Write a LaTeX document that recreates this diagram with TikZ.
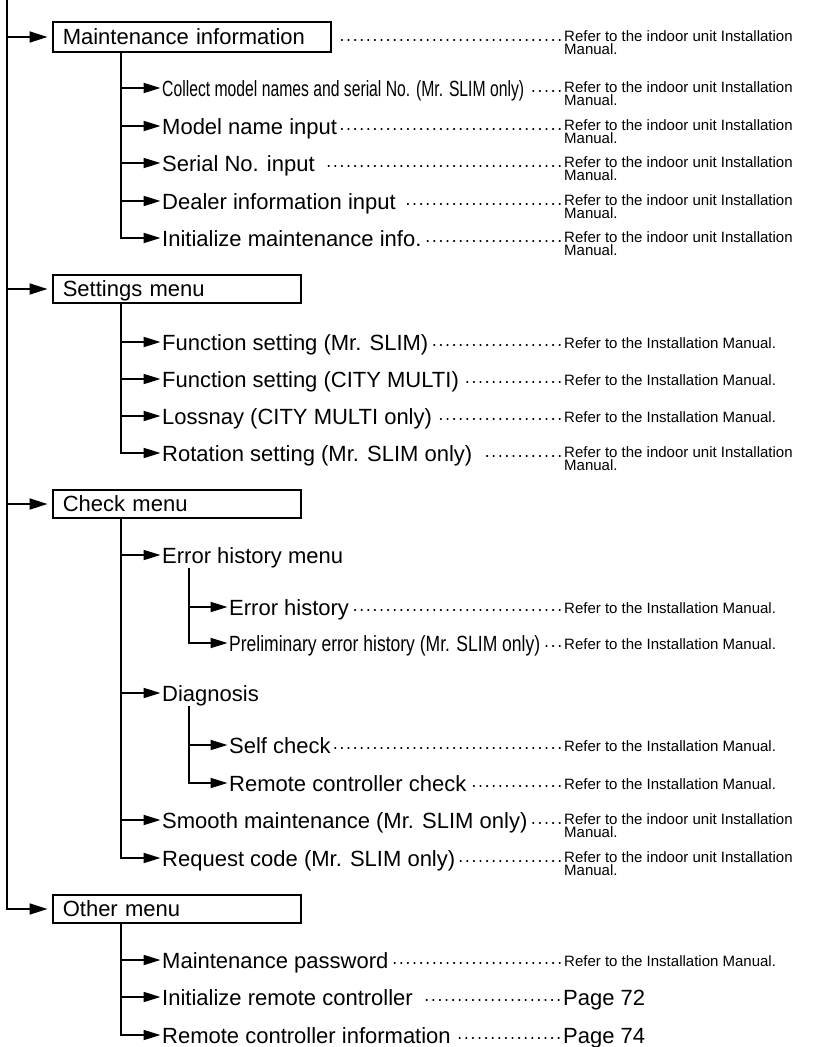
\documentclass[tikz,border=0pt]{standalone}
\usepackage{fontspec}
\usepackage{graphicx}
\setmainfont{Liberation Sans}
\usetikzlibrary{arrows.meta,calc}
\newcommand\itemfont{\fontsize{22}{26}\selectfont}
\newcommand\notefont{\fontsize{15}{13.5}\selectfont}
\newcommand\indoornote{\vtop{\hbox{Refer to the indoor unit Installation}\hbox{Manual.}}}
\newcommand\instnote{Refer to the Installation Manual.}
\newcommand\tbranch[2]{\draw[subarrow] ($(#1 |- #2.base west)+(0,8pt)$) -- ($(#2.base west)+(0,8pt)$);}
\newcommand\tlast[2]{\draw[subarrow] (#1) |- ($(#2.base west)+(0,8pt)$);}
\newcommand\leadto[3][4pt]{\draw[leader] ($(#2.base east -| #3.west)+(-4pt,5pt)$) -- ($(#2.base east)+(#1,5pt)$);}
\begin{document}
\begin{tikzpicture}[x=1pt,y=-1pt,
  tline/.style={line width=1.8pt},
  toparrow/.style={tline,-{Triangle[length=18pt,width=11pt]},shorten >=4.5pt},
  subarrow/.style={tline,-{Triangle[length=17pt,width=10pt]},shorten >=1.5pt},
  menubox/.style={draw,line width=1.6pt,anchor=west,inner xsep=10pt,inner ysep=0pt,
    minimum height=28pt,text height=16pt,text depth=2pt,align=left,font=\itemfont},
  item/.style={inner sep=0pt,anchor=base west,font=\itemfont},
  refer/.style={inner sep=0pt,anchor=base west,font=\notefont},
  pageref/.style={inner sep=0pt,anchor=base west,font=\itemfont},
  leader/.style={line width=1.7pt,line cap=round,dash pattern=on 0.6pt off 6pt}]
\useasboundingbox (0,0) rectangle (813,1047);

% menu boxes
\node[menubox,text width=258pt,minimum height=30pt] (mi) at (52,37) {Maintenance information};
\node[menubox,text width=228pt] (sm) at (52,289) {Settings menu};
\node[menubox,text width=228pt] (cm) at (52,504) {Check menu};
\node[menubox,text width=228pt] (om) at (52,909) {Other menu};

% trunk
\coordinate (trunk) at (7,0);
\draw[toparrow] (trunk) |- (om.west);
\draw[toparrow] (trunk |- mi.west) -- (mi.west);
\draw[toparrow] (trunk |- sm.west) -- (sm.west);
\draw[toparrow] (trunk |- cm.west) -- (cm.west);

% maintenance information
\node[refer] (r0) at (564,41) {\indoornote};
\draw[leader] ($(mi.east -| r0.west)+(-4pt,-3pt)$) -- ($(mi.east)+(7pt,-3pt)$);
\node[item] (ci) at (162,96) {\resizebox{362pt}{\height}{Collect model names and serial No. (Mr. SLIM only)}};
\node[item] (mn) at (162,134) {Model name input};
\node[item] (sn) at (162,171) {Serial No. input};
\node[item] (di) at (162,209) {Dealer information input};
\node[item] (im) at (162,246) {Initialize maintenance info.};
\node[refer] (r1) at (564,92) {\indoornote};
\node[refer] (r2) at (564,130) {\indoornote};
\node[refer] (r3) at (564,167) {\indoornote};
\node[refer] (r4) at (564,205) {\indoornote};
\node[refer] (r5) at (564,242) {\indoornote};
\leadto{ci}{r1}
\leadto{mn}{r2}
\leadto[10pt]{sn}{r3}
\leadto[10pt]{di}{r4}
\leadto{im}{r5}
\coordinate (v1) at ([xshift=69pt]mi.south west);
\tbranch{v1}{ci}
\tbranch{v1}{mn}
\tbranch{v1}{sn}
\tbranch{v1}{di}
\tlast{v1}{im}

% settings menu
\node[item] (fs) at (162,350) {Function setting (Mr. SLIM)};
\node[item] (fc) at (162,387) {Function setting (CITY MULTI)};
\node[item] (ls) at (162,424) {Lossnay (CITY MULTI only)};
\node[item] (rs) at (162,461) {Rotation setting (Mr. SLIM only)};
\node[refer] (r6) at (564,348) {\instnote};
\node[refer] (r7) at (564,385) {\instnote};
\node[refer] (r8) at (564,422) {\instnote};
\node[refer] (r9) at (564,457) {\indoornote};
\leadto{fs}{r6}
\leadto{fc}{r7}
\leadto{ls}{r8}
\leadto[10pt]{rs}{r9}
\coordinate (v2) at ([xshift=69pt]sm.south west);
\tbranch{v2}{fs}
\tbranch{v2}{fc}
\tbranch{v2}{ls}
\tlast{v2}{rs}

% check menu
\node[item] (ehm) at (162,563) {Error history menu};
\node[item] (eh) at (229,615) {Error history};
\node[item] (peh) at (229,651) {\resizebox{311pt}{\height}{Preliminary error history (Mr. SLIM only)}};
\node[item] (dg) at (162,701) {Diagnosis};
\node[item] (sc) at (229,753) {Self check};
\node[item] (rcc) at (229,791) {Remote controller check};
\node[item] (smm) at (162,828) {Smooth maintenance (Mr. SLIM only)};
\node[item] (rq) at (162,866) {Request code (Mr. SLIM only)};
\node[refer] (r10) at (564,613) {\instnote};
\node[refer] (r11) at (564,649) {\instnote};
\node[refer] (r12) at (564,751) {\instnote};
\node[refer] (r13) at (564,789) {\instnote};
\node[refer] (r14) at (564,824) {\indoornote};
\node[refer] (r15) at (564,862) {\indoornote};
\leadto{eh}{r10}
\leadto{peh}{r11}
\leadto{sc}{r12}
\leadto{rcc}{r13}
\leadto{smm}{r14}
\leadto{rq}{r15}
\coordinate (v3) at ([xshift=69pt]cm.south west);
\tbranch{v3}{ehm}
\tbranch{v3}{dg}
\tbranch{v3}{smm}
\tlast{v3}{rq}
\coordinate (v4) at ([xshift=27pt]ehm.south west);
\tbranch{v4}{eh}
\tlast{v4}{peh}
\coordinate (v5) at ([xshift=27pt]dg.south west);
\tbranch{v5}{sc}
\tlast{v5}{rcc}

% other menu
\node[item] (mp) at (162,968) {Maintenance password};
\node[item] (irc) at (162,1005) {Initialize remote controller};
\node[item] (rci) at (162,1043) {Remote controller information};
\node[refer] (r16) at (564,966) {\instnote};
\node[pageref] (p72) at (563,1005) {Page 72};
\node[pageref] (p74) at (563,1043) {Page 74};
\leadto{mp}{r16}
\leadto[10pt]{irc}{p72}
\leadto[8pt]{rci}{p74}
\coordinate (v6) at ([xshift=69pt]om.south west);
\tbranch{v6}{mp}
\tbranch{v6}{irc}
\tlast{v6}{rci}
\end{tikzpicture}
\end{document}
